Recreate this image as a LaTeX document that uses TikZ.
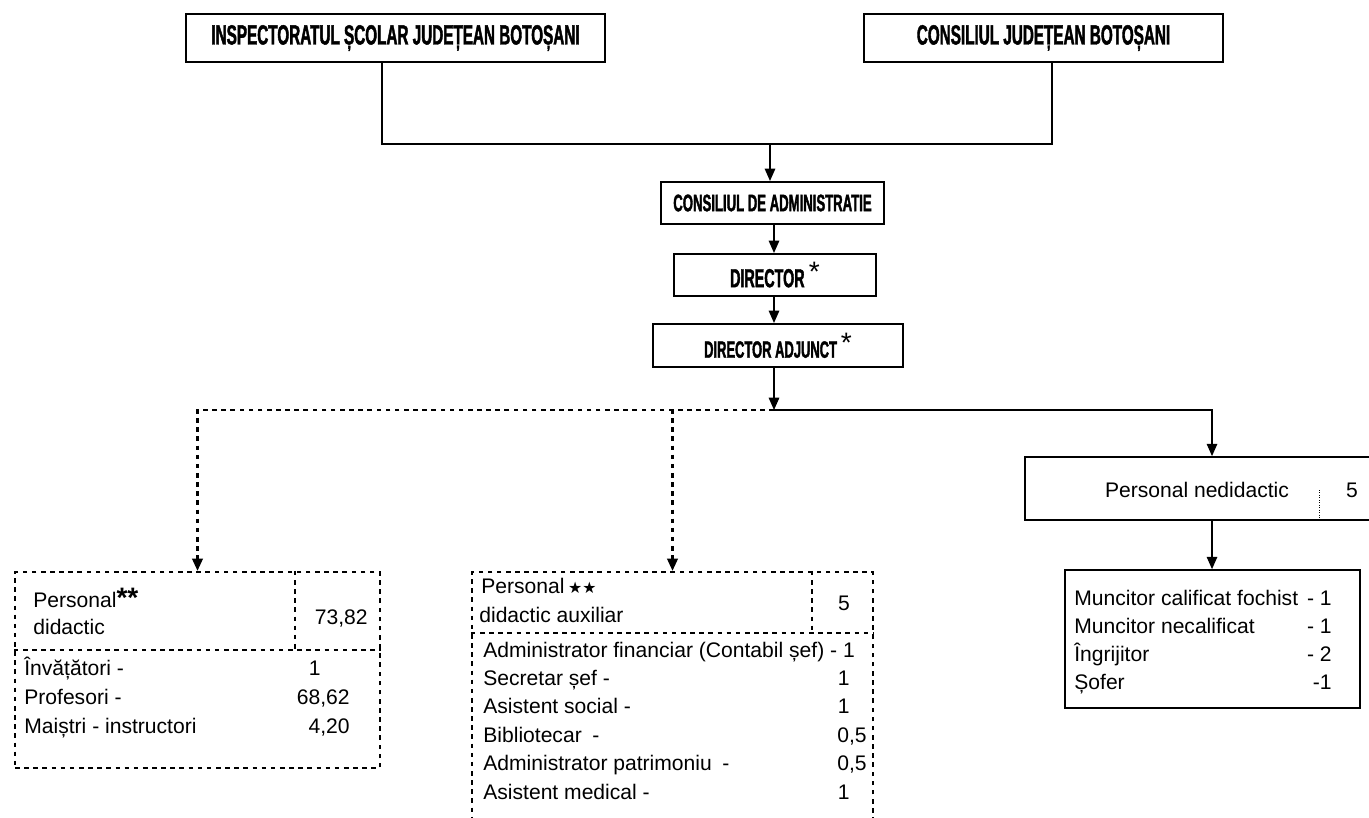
\documentclass[tikz,border=0pt]{standalone}
\usepackage{fontspec}
\setmainfont{Liberation Sans}
\newfontfamily\headfont[FakeStretch=0.55, FakeBold=1.5]{Liberation Sans}
\newfontfamily\symfont{DejaVu Sans}
\usetikzlibrary{arrows.meta}
\tikzset{
  >={Triangle[width=6pt,length=7pt]},
  headbox/.style={
    draw,
    line width=1.2pt,
    inner sep=0pt,
    font=\headfont\bfseries\fontsize{#1}{#1}\selectfont
  },
  box/.style={draw, line width=1pt, inner sep=0pt},
  dotbox/.style={draw, line width=1.3pt, dash pattern=on 2.6pt off 2.6pt, inner sep=0pt},
  dotline/.style={line width=1.3pt, dash pattern=on 2.6pt off 2.6pt},
  link/.style={->, line width=0.7pt},
  item/.style={inner sep=0pt, anchor=base west},
  amount/.style={inner sep=0pt, anchor=base east}
}

\begin{document}
\begin{tikzpicture}[
      x=0.02cm, y=-0.02cm,
      every node/.style={font=\fontsize{12}{14}\selectfont}
    ]
      \useasboundingbox (0,0) rectangle (1369,818);

      % upper chain
      \node[headbox=15.8, minimum width=8.38cm, minimum height=0.96cm] (isj) at (395.5,38) {INSPECTORATUL ȘCOLAR JUDEȚEAN BOTOȘANI};
      \node[headbox=15.8, minimum width=7.18cm, minimum height=0.96cm] (cj) at (1043.5,38) {CONSILIUL JUDEȚEAN BOTOȘANI};
      \node[headbox=13.6, minimum width=4.46cm, minimum height=0.84cm] (ca) at (772.5,203) {CONSILIUL DE ADMINISTRATIE};
      \node[headbox=14.8, minimum width=4.04cm, minimum height=0.84cm] (dir) at (775,275) {DIRECTOR\,\raisebox{3pt}{\normalfont\fontsize{16}{16}\selectfont *}};
      \node[headbox=13.4, minimum width=5cm, minimum height=0.86cm] (da) at (778,345.5) {DIRECTOR ADJUNCT\,\raisebox{3pt}{\normalfont\fontsize{16}{16}\selectfont *}};

      \coordinate (top) at (770,144);
      \coordinate (spine) at (774,410);

      \draw[link, -] ([xshift=-0.27cm]isj.south) |- (top) -| ([xshift=0.17cm]cj.south);
      \draw[link] (top) -- (top |- ca.north);
      \draw[link] (ca.south -| spine) -- (dir.north -| spine);
      \draw[link] (dir.south -| spine) -- (da.north -| spine);
      \draw[link] (da.south -| spine) -- (spine);

      % three branches
      \node[dotbox, minimum width=7.3cm, minimum height=3.92cm] (did) at (197.5,670) {};
      \node[dotbox, minimum width=8.02cm, minimum height=5.2cm] (aux) at (672.5,702) {};
      \node[box, minimum width=7.48cm, minimum height=1.26cm] (ned) at (1212,488.5) {};
      \node[box, minimum width=5.9cm, minimum height=2.76cm] (mun) at (1212.5,639) {};

      \draw[dotline, ->] (spine) -| (did.north);
      \draw[dotline, ->] (spine) -| (aux.north);
      \draw[link] (spine) -| (ned.north);
      \draw[link] (ned.south) -- (ned.south |- mun.north);

      \draw[dotline] (did.west |- 0,650) -- (did.east |- 0,650);
      \draw[dotline] (295,0 |- did.north) -- (295,650);
      \draw[dotline] (aux.west |- 0,633) -- (aux.east |- 0,633);
      \draw[dotline] (812,0 |- aux.north) -- (812,633);
      \draw[densely dotted, line width=0.4pt] (1319,490) -- (1319,0 |- ned.south);

      % personal didactic
      \node[item] (didname) at (33,607) {Personal{\fontsize{16}{16}\selectfont\bfseries **}};
      \node[item] (didname2) at (33,634) {didactic};
      \node[amount] (didtotal) at (368,624) {73,82};
      \foreach \lbl/\nr/\xr [count=\i] in {Învățători -/1/321, Profesori -/{68,62}/350, Maiștri - instructori/{4,20}/350} {
        \node[item] (didrow\i) at (24,{646+29*\i}) {\lbl};
        \node[amount] (didnr\i) at (\xr,{646+29*\i}) {\nr};
      }

      % personal didactic auxiliar
      \node[item] (auxname) at (481,593) {Personal\,{\symfont\fontsize{9}{9}\selectfont ★★}};
      \node[item] (auxname2) at (479,622) {didactic auxiliar};
      \node[anchor=base, inner sep=0pt] (auxtotal) at (844,610) {5};
      \foreach \lbl/\nr/\xr [count=\i] in {Administrator financiar (Contabil șef) - 1/{}/852, Secretar șef -/1/850, Asistent social -/1/850, Bibliotecar\enspace-/{0,5}/867, Administrator patrimoniu\enspace-/{0,5}/867, Asistent medical -/1/850} {
        \node[item] (auxrow\i) at (483,{628.6+28.4*\i}) {\lbl};
        \node[amount] (auxnr\i) at (\xr,{628.6+28.4*\i}) {\nr};
      }

      % personal nedidactic
      \node[anchor=base, inner sep=0pt] (nedname) at (1197,497) {Personal nedidactic};
      \node[anchor=base, inner sep=0pt] (nedtotal) at (1352,497) {5};
      \foreach \lbl/\nr [count=\i] in {Muncitor calificat fochist/- 1, Muncitor necalificat/- 1, Îngrijitor/- 2, Șofer/-1} {
        \node[item] (munrow\i) at (1074,{577+28*\i}) {\lbl};
        \node[amount] (munnr\i) at (1332,{577+28*\i}) {\nr};
      }
    \end{tikzpicture}
\end{document}
